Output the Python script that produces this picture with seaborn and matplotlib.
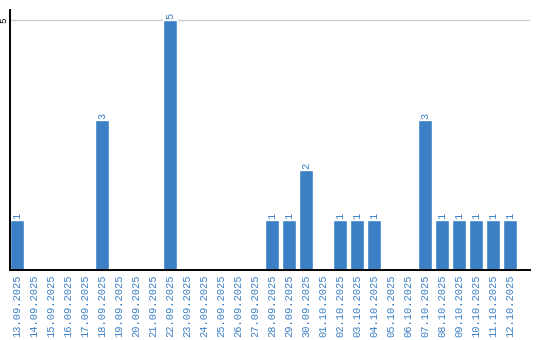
import matplotlib
matplotlib.use("Agg")
import matplotlib.pyplot as plt
import seaborn as sns
import pandas as pd

dates = ["13.09.2025", "14.09.2025", "15.09.2025", "16.09.2025", "17.09.2025",
         "18.09.2025", "19.09.2025", "20.09.2025", "21.09.2025", "22.09.2025",
         "23.09.2025", "24.09.2025", "25.09.2025", "26.09.2025", "27.09.2025",
         "28.09.2025", "29.09.2025", "30.09.2025", "01.10.2025", "02.10.2025",
         "03.10.2025", "04.10.2025", "05.10.2025", "06.10.2025", "07.10.2025",
         "08.10.2025", "09.10.2025", "10.10.2025", "11.10.2025", "12.10.2025"]
counts = [1, 0, 0, 0, 0, 3, 0, 0, 0, 5, 0, 0, 0, 0, 0,
          1, 1, 2, 0, 1, 1, 1, 0, 0, 3, 1, 1, 1, 1, 1]
yticks = [5]

blue = "#3b7fc4"
df = pd.DataFrame({"date": dates, "count": counts})

sns.set_style("white")
plt.rcParams["font.family"] = ["Liberation Mono", "DejaVu Sans Mono"]

fig = plt.figure(figsize=(5.4, 3.4), dpi=100)
ax = fig.add_axes([10 / 540, 70 / 340, 520 / 540, 260 / 340])

sns.barplot(data=df, x="date", y="count", color=blue, saturation=1,
            width=0.82, ax=ax, zorder=3)

ax.set_xlim(-0.41, -0.41 + 520 / 17)
ax.set_ylim(0, 5.2)
ax.set_yticks(yticks)
ax.set_yticklabels([str(v) for v in yticks], rotation=90, va="center",
                   ha="center", fontsize=6.5, color="black")
ax.tick_params(axis="y", length=0, pad=4.5)
ax.tick_params(axis="x", length=0, pad=3)
for lbl in ax.get_xticklabels():
    lbl.set_rotation(90)
    lbl.set_color(blue)
    lbl.set_fontsize(7.5)
ax.set_xlabel("")
ax.set_ylabel("")

ax.yaxis.grid(True, color="#cccccc", linewidth=1, zorder=0)
ax.xaxis.grid(False)
for s in ["top", "right"]:
    ax.spines[s].set_visible(False)
for s in ["left", "bottom"]:
    ax.spines[s].set_color("black")
    ax.spines[s].set_linewidth(1.4)
    ax.spines[s].set_zorder(4)

labels = [str(v) if v > 0 else "" for v in counts]
ax.bar_label(ax.containers[0], labels=labels, rotation=90, padding=1,
             color=blue, fontsize=7.5)

fig.savefig("out.png", dpi=100)
